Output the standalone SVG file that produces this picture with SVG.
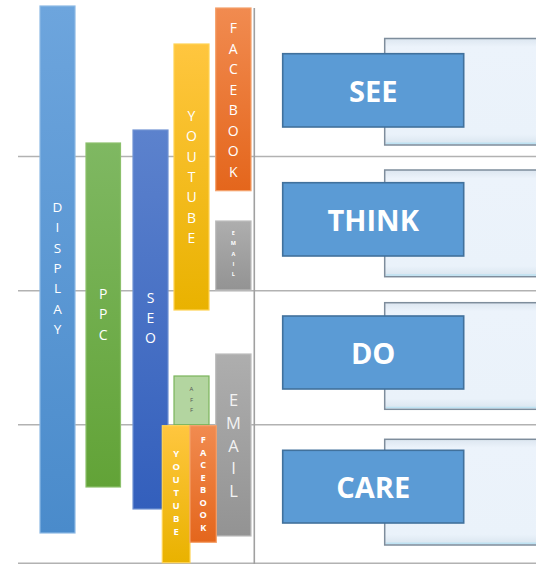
<svg xmlns="http://www.w3.org/2000/svg" width="536" height="564" viewBox="0 0 536 564">
<defs>
<linearGradient id="gBlue" x1="0" y1="0" x2="0" y2="1"><stop offset="0" stop-color="#6DA5DD"/><stop offset="1" stop-color="#4A8BCB"/></linearGradient>
<linearGradient id="gGreen" x1="0" y1="0" x2="0" y2="1"><stop offset="0" stop-color="#7FB862"/><stop offset="1" stop-color="#62A337"/></linearGradient>
<linearGradient id="gNavy" x1="0" y1="0" x2="0" y2="1"><stop offset="0" stop-color="#5C82CD"/><stop offset="1" stop-color="#335FBC"/></linearGradient>
<linearGradient id="gYellow" x1="0" y1="0" x2="0" y2="1"><stop offset="0" stop-color="#FFC63F"/><stop offset="1" stop-color="#E9B200"/></linearGradient>
<linearGradient id="gOrange" x1="0" y1="0" x2="0" y2="1"><stop offset="0" stop-color="#F18B50"/><stop offset="1" stop-color="#E4661C"/></linearGradient>
<linearGradient id="gGray" x1="0" y1="0" x2="0" y2="1"><stop offset="0" stop-color="#AEAEAE"/><stop offset="1" stop-color="#939393"/></linearGradient>
<linearGradient id="gPanel" x1="0" y1="0" x2="0" y2="1"><stop offset="0" stop-color="#DCE6F0"/><stop offset="0.08" stop-color="#ECF3FB"/><stop offset="0.9" stop-color="#EAF2FA"/><stop offset="1" stop-color="#D8E4EE"/></linearGradient>
</defs>
<style>
.grid{stroke:#B2B2B2;stroke-width:1.6;fill:none}
.vline{stroke:#A0A0A0;stroke-width:1.6;fill:none}
.bar{stroke-width:1.2}
.lt{font-family:"Open Sans","Liberation Sans",sans-serif;fill:#FFFFFF;text-anchor:middle}
.panel{fill:url(#gPanel);stroke:#7E8D9C;stroke-width:1.5}
.hl{stroke:#BEE2F2;stroke-width:1.5}
.box{fill:#5B9BD5;stroke:#41719C;stroke-width:1.6}
.bt{font-family:"Open Sans","Liberation Sans",sans-serif;font-weight:bold;font-size:29px;fill:#FFFFFF;text-anchor:middle}
</style>
<rect width="536" height="564" fill="#FFFFFF"/>
<g id="grid">
<line class="grid" x1="18" y1="156.5" x2="536" y2="156.5"/>
<line class="grid" x1="18" y1="290.7" x2="536" y2="290.7"/>
<line class="grid" x1="18" y1="424.7" x2="536" y2="424.7"/>
<line class="grid" x1="18" y1="563.2" x2="536" y2="563.2"/>
<line class="vline" x1="254.3" y1="8" x2="254.3" y2="564"/>
</g>
<g id="display">
<rect class="bar" x="40" y="6" width="35" height="527" fill="url(#gBlue)" stroke="#8DB9E5"/>
<text class="lt" font-size="13.5" x="57.5" y="212"><tspan x="57.5">D</tspan><tspan x="57.5" dy="20.3">I</tspan><tspan x="57.5" dy="20.3">S</tspan><tspan x="57.5" dy="20.3">P</tspan><tspan x="57.5" dy="20.3">L</tspan><tspan x="57.5" dy="20.3">A</tspan><tspan x="57.5" dy="20.3">Y</tspan></text>
</g>
<g id="ppc">
<rect class="bar" x="86" y="143" width="34.5" height="344" fill="url(#gGreen)" stroke="#8CC06C"/>
<text class="lt" font-size="14" x="103.2" y="299"><tspan x="103.2">P</tspan><tspan x="103.2" dy="20.3">P</tspan><tspan x="103.2" dy="20.3">C</tspan></text>
</g>
<g id="seo">
<rect class="bar" x="133" y="130" width="35" height="379" fill="url(#gNavy)" stroke="#6F92D3"/>
<text class="lt" font-size="14" x="150.5" y="303"><tspan x="150.5">S</tspan><tspan x="150.5" dy="20">E</tspan><tspan x="150.5" dy="20">O</tspan></text>
</g>
<g id="youtube-top">
<rect class="bar" x="174" y="44" width="35" height="266" fill="url(#gYellow)" stroke="#FFD353"/>
<text class="lt" font-size="14" x="191.5" y="121"><tspan x="191.5">Y</tspan><tspan x="191.5" dy="20.3">O</tspan><tspan x="191.5" dy="20.3">U</tspan><tspan x="191.5" dy="20.3">T</tspan><tspan x="191.5" dy="20.3">U</tspan><tspan x="191.5" dy="20.3">B</tspan><tspan x="191.5" dy="20.3">E</tspan></text>
</g>
<g id="facebook-top">
<rect class="bar" x="215.7" y="8" width="35.3" height="182.7" fill="url(#gOrange)" stroke="#F4A06A"/>
<text class="lt" font-size="14" x="233.3" y="33"><tspan x="233.3">F</tspan><tspan x="233.3" dy="20.5">A</tspan><tspan x="233.3" dy="20.5">C</tspan><tspan x="233.3" dy="20.5">E</tspan><tspan x="233.3" dy="20.5">B</tspan><tspan x="233.3" dy="20.5">O</tspan><tspan x="233.3" dy="20.5">O</tspan><tspan x="233.3" dy="20.5">K</tspan></text>
</g>
<g id="email-small">
<rect class="bar" x="215.7" y="221" width="35.3" height="69" fill="url(#gGray)" stroke="#BDBDBD"/>
<text class="lt" font-size="5.5" font-weight="bold" fill="#EEEEEE" x="233.3" y="235"><tspan x="233.3">E</tspan><tspan x="233.3" dy="10.3">M</tspan><tspan x="233.3" dy="10.3">A</tspan><tspan x="233.3" dy="10.3">I</tspan><tspan x="233.3" dy="10.3">L</tspan></text>
</g>
<g id="aff">
<rect class="bar" x="174" y="376" width="35" height="48.7" fill="#B3D5A0" stroke="#7AB55B"/>
<text class="lt" font-size="6" style="fill:#555555" x="191.5" y="391"><tspan x="191.5">A</tspan><tspan x="191.5" dy="10.5">F</tspan><tspan x="191.5" dy="10.5">F</tspan></text>
</g>
<g id="email-big">
<rect class="bar" x="215.7" y="354" width="35.3" height="182" fill="url(#gGray)" stroke="#BDBDBD"/>
<text class="lt" font-size="16.5" style="fill:#F3F3F3" x="233.5" y="406"><tspan x="233.5">E</tspan><tspan x="233.5" dy="22.8">M</tspan><tspan x="233.5" dy="22.8">A</tspan><tspan x="233.5" dy="22.8">I</tspan><tspan x="233.5" dy="22.8">L</tspan></text>
</g>
<g id="youtube-bottom">
<rect class="bar" x="162.3" y="425.7" width="27.7" height="137" fill="url(#gYellow)" stroke="#FFD353"/>
<text class="lt" font-size="9.5" font-weight="bold" x="176.2" y="457"><tspan x="176.2">Y</tspan><tspan x="176.2" dy="13">O</tspan><tspan x="176.2" dy="13">U</tspan><tspan x="176.2" dy="13">T</tspan><tspan x="176.2" dy="13">U</tspan><tspan x="176.2" dy="13">B</tspan><tspan x="176.2" dy="13">E</tspan></text>
</g>
<g id="facebook-bottom">
<rect class="bar" x="190" y="425.7" width="26.3" height="116.6" fill="url(#gOrange)" stroke="#F4A06A"/>
<text class="lt" font-size="9.2" font-weight="bold" x="203.2" y="443"><tspan x="203.2">F</tspan><tspan x="203.2" dy="12.5">A</tspan><tspan x="203.2" dy="12.5">C</tspan><tspan x="203.2" dy="12.5">E</tspan><tspan x="203.2" dy="12.5">B</tspan><tspan x="203.2" dy="12.5">O</tspan><tspan x="203.2" dy="12.5">O</tspan><tspan x="203.2" dy="12.5">K</tspan></text>
</g>
<g id="see">
<rect class="panel" x="384.7" y="38.5" width="160" height="106.5"/>
<line class="hl" x1="386" y1="143.3" x2="536" y2="143.3"/>
<rect class="box" x="282.7" y="53.7" width="181" height="73.3"/>
<text class="bt" x="373.2" y="101.5">SEE</text>
</g>
<g id="think">
<rect class="panel" x="384.7" y="170" width="160" height="106.7"/>
<line class="hl" x1="386" y1="275" x2="536" y2="275"/>
<rect class="box" x="282.7" y="182.7" width="181" height="73.3"/>
<text class="bt" x="373.2" y="230.5">THINK</text>
</g>
<g id="do">
<rect class="panel" x="384.7" y="302.7" width="160" height="106.6"/>
<line class="hl" x1="386" y1="407.6" x2="536" y2="407.6"/>
<rect class="box" x="282.7" y="316" width="181" height="73"/>
<text class="bt" x="373.2" y="363.5">DO</text>
</g>
<g id="care">
<rect class="panel" x="384.7" y="439.3" width="160" height="105.7"/>
<line class="hl" x1="386" y1="543.3" x2="536" y2="543.3"/>
<rect class="box" x="282.7" y="450.3" width="181" height="72.7"/>
<text class="bt" x="373.2" y="497.5">CARE</text>
</g>
</svg>
